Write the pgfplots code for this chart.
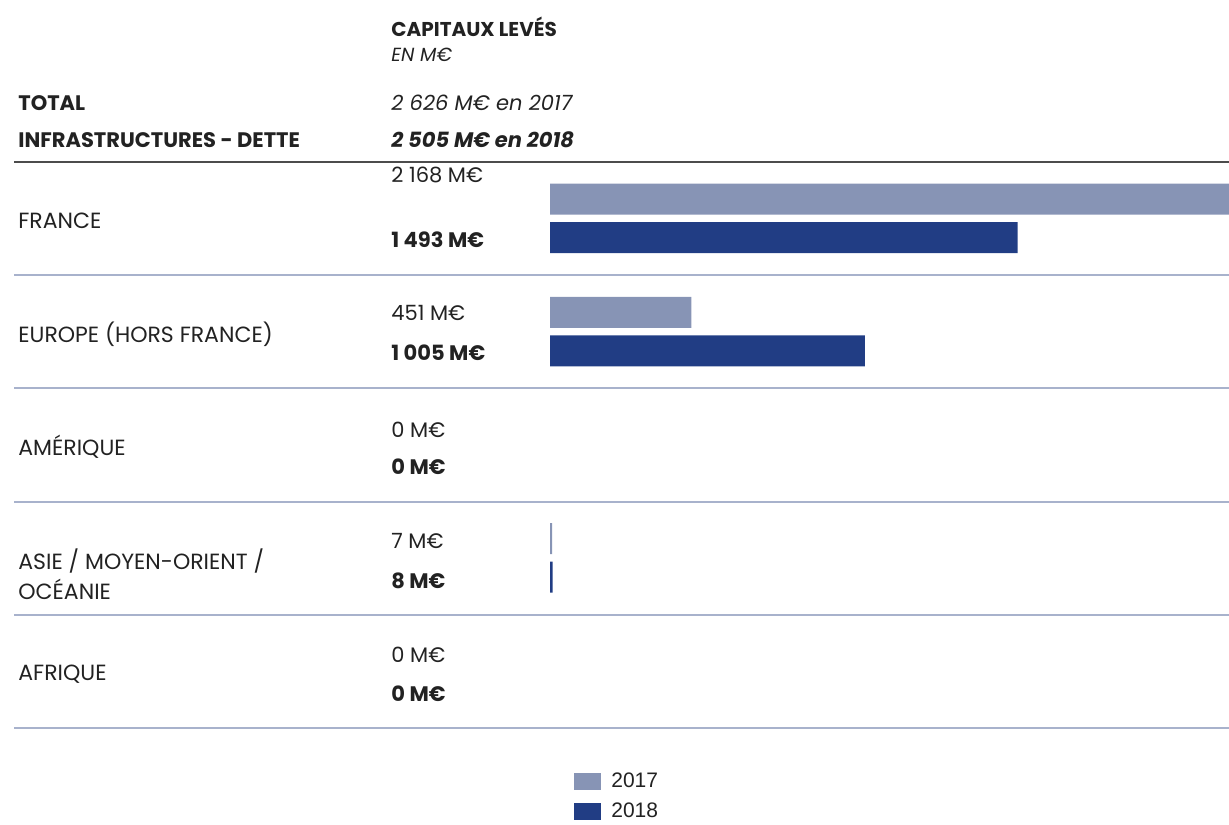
\documentclass[border=0pt]{standalone}
\usepackage{pgfplots}
\pgfplotsset{compat=1.18}
\usepackage{fontspec}
\setmainfont{Poppins}
\newfontfamily\legfont{Liberation Sans}
\definecolor{c17}{HTML}{8794B5}
\definecolor{c18}{HTML}{213D84}
\definecolor{sep}{HTML}{A8B2CC}
\definecolor{txt}{HTML}{222222}
\begin{document}
\begin{tikzpicture}
\begin{scope}[x=0.5pt,y=-0.5pt]
\path[use as bounding box] (0,0) rectangle (1229,820);
\tikzset{lab/.style={anchor=west,inner sep=0pt,text=txt,font=\fontsize{10pt}{12pt}\selectfont}}
% header
\node[lab,font=\fontsize{10pt}{12pt}\selectfont\bfseries] at (391,27) {CAPITAUX LEVÉS};
\node[lab,font=\fontsize{9.5pt}{11pt}\selectfont\itshape] at (391,55) {EN M€};
\node[lab,font=\fontsize{10.5pt}{12pt}\selectfont\bfseries] at (18,103) {TOTAL};
\node[lab,font=\fontsize{10.5pt}{12pt}\selectfont\bfseries] at (18,140) {INFRASTRUCTURES - DETTE};
\node[lab,font=\fontsize{10.5pt}{12pt}\selectfont\itshape] at (391,103) {2 626 M€ en 2017};
\node[lab,font=\fontsize{10.5pt}{12pt}\selectfont\bfseries\itshape] at (391,140) {2 505 M€ en 2018};
\draw[line width=0.6pt,draw=black!70] (14,162) -- (1229,162);
% row separators
\foreach \yy in {275,388,502,615,728} {\draw[line width=0.6pt,draw=sep] (14,\yy) -- (1229,\yy);}
% category labels
\tikzset{cat/.style={lab,font=\fontsize{11pt}{13pt}\selectfont}}
\node[cat] at (18,221) {FRANCE};
\node[cat] at (18,334) {EUROPE (HORS FRANCE)};
\node[cat] at (18,447) {AMÉRIQUE};
\node[cat] at (18,561) {ASIE / MOYEN-ORIENT /};
\node[cat] at (18,589) {OCÉANIE};
\node[cat] at (18,674) {AFRIQUE};
% value labels
\tikzset{v17/.style={lab,font=\fontsize{10.5pt}{12pt}\selectfont},v18/.style={lab,font=\fontsize{10.5pt}{12pt}\selectfont\bfseries}}
\node[v17] at (391,175) {2 168 M€};
\node[v18] at (391,240) {1 493 M€};
\node[v17] at (391,313) {451 M€};
\node[v18] at (391,353) {1 005 M€};
\node[v17] at (391,430) {0 M€};
\node[v18] at (391,467) {0 M€};
\node[v17] at (391,541) {7 M€};
\node[v18] at (391,581) {8 M€};
\node[v17] at (391,655) {0 M€};
\node[v18] at (391,694) {0 M€};
\end{scope}
\begin{axis}[
  at={(275pt,-81pt)}, anchor=north west,
  scale only axis, width=339.5pt, height=283pt,
  xmin=0, xmax=2168, ymin=-0.5, ymax=4.5, y dir=reverse,
  axis lines=none, clip=false,
  xbar, bar width=15.5pt,
  restrict x to domain=0.1:10000,
  legend style={at={(0.0353,-0.072)}, anchor=north west, draw=none, fill=none,
    font=\legfont\fontsize{10.5pt}{12pt}\selectfont, row sep=2pt, inner sep=0pt,
    nodes={inner ysep=2pt, inner xsep=5pt, text=txt}},
  legend cell align=left,
  legend image code/.code={\fill[#1] (0pt,-4.25pt) rectangle (13.5pt,4.25pt);},
]
\addplot[fill=c17, draw=none, bar shift=9.75pt] coordinates {(2168,0) (451,1) (0,2) (7,3) (0,4)};
\addplot[fill=c18, draw=none, bar shift=-9.5pt] coordinates {(1493,0) (1005,1) (0,2) (8,3) (0,4)};
\legend{2017,2018}
\end{axis}
\end{tikzpicture}
\end{document}
